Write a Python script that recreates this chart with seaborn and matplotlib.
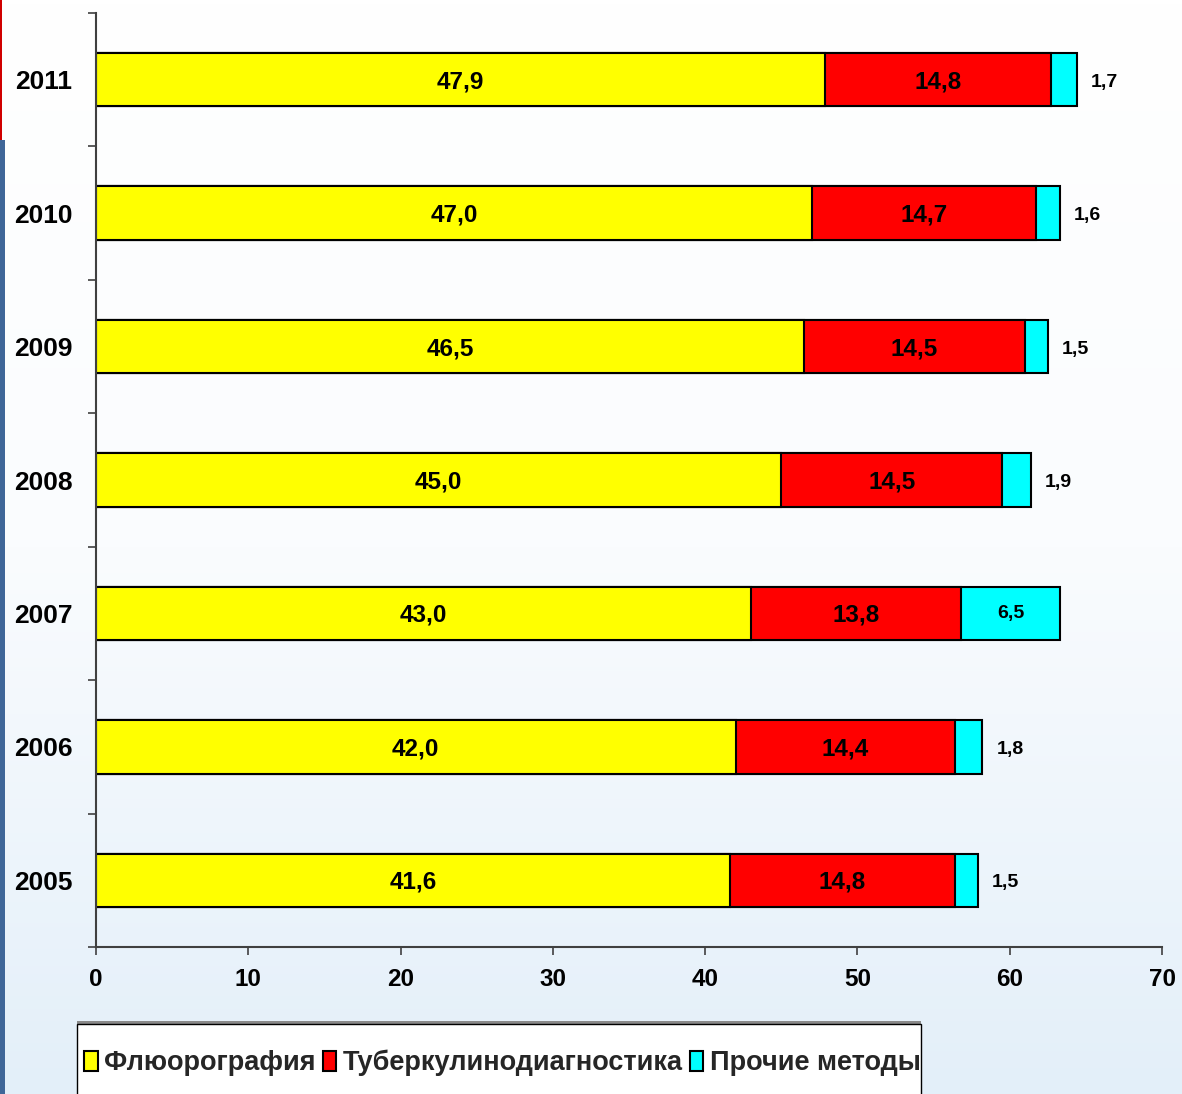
import numpy as np
import pandas as pd
import matplotlib
matplotlib.use("Agg")
import matplotlib.pyplot as plt
import seaborn as sns
from matplotlib.patches import Patch, Rectangle
from matplotlib.colors import LinearSegmentedColormap

# Screening methods by year, percent
years = ["2011", "2010", "2009", "2008", "2007", "2006", "2005"]
fluoro = [47.9, 47.0, 46.5, 45.0, 43.0, 42.0, 41.6]
tuberc = [14.8, 14.7, 14.5, 14.5, 13.8, 14.4, 14.8]
other = [1.7, 1.6, 1.5, 1.9, 6.5, 1.8, 1.5]
series_names = ["Флюорография", "Туберкулинодиагностика", "Прочие методы"]
x_ticks = [0, 10, 20, 30, 40, 50, 60, 70]

colors = ["#FFFF00", "#FF0000", "#00FFFF"]

sns.set_theme(style="ticks")
plt.rcParams["font.family"] = ["Liberation Sans", "DejaVu Sans"]
plt.rcParams["font.weight"] = "bold"

W, H = 1182, 1094
fig = plt.figure(figsize=(W / 100, H / 100), dpi=100)

# soft vertical gradient backdrop
bg = fig.add_axes([0, 0, 1, 1])
grad = np.linspace(0, 1, 256)[:, None]
cmap = LinearSegmentedColormap.from_list("bg", ["#FFFFFF", "#FAFCFE", "#E3EFF9"])
bg.imshow(grad, aspect="auto", cmap=cmap, extent=[0, 1, 0, 1], origin="upper")
bg.set_axis_off()

ax = fig.add_axes([96 / W, 1 - 947 / H, (1162 - 96) / W, (947 - 13) / H])
ax.set_facecolor("none")

df = pd.DataFrame({"year": years, "fluoro": fluoro, "tuberc": tuberc, "other": other})
df["s2"] = df["fluoro"] + df["tuberc"]
df["s3"] = df["s2"] + df["other"]

# stacked bars drawn as cumulative layers, widest first
for col, color in [("s3", colors[2]), ("s2", colors[1]), ("fluoro", colors[0])]:
    sns.barplot(data=df, x=col, y="year", order=years, color=color, saturation=1,
                width=0.4, edgecolor="black", linewidth=1.5, errorbar=None,
                orient="h", ax=ax)

def fmt(v):
    return f"{v:.1f}".replace(".", ",")

for i, r in df.iterrows():
    ax.text(r["fluoro"] / 2, i + 0.015, fmt(r["fluoro"]), ha="center", va="center",
            fontsize=17.5, fontweight="bold", color="black")
    ax.text(r["fluoro"] + r["tuberc"] / 2, i + 0.015, fmt(r["tuberc"]), ha="center",
            va="center", fontsize=17.5, fontweight="bold", color="black")
    if r["other"] >= 3:
        ax.text(r["s2"] + r["other"] / 2, i, fmt(r["other"]), ha="center", va="center",
                fontsize=14, fontweight="bold", color="black")
    else:
        ax.annotate(fmt(r["other"]), (r["s3"], i + 0.02), xytext=(20, 0),
                    textcoords="offset points", ha="center", va="center",
                    fontsize=14, fontweight="bold", color="black")

ax.set_xlim(0, 70)
ax.set_ylim(6.5, -0.5)
ax.set_xlabel("")
ax.set_ylabel("")
ax.set_xticks(x_ticks)
ax.set_xticklabels([str(t) for t in x_ticks])
ax.set_yticks(np.arange(-0.5, 7, 1), minor=True)

for s in ["top", "right"]:
    ax.spines[s].set_visible(False)
for s in ["left", "bottom"]:
    ax.spines[s].set_color("#404040")
    ax.spines[s].set_linewidth(1.5)

ax.tick_params(axis="x", which="major", length=6, width=1.2, color="#404040",
               direction="out", pad=9, labelsize=17.5, labelcolor="black")
ax.tick_params(axis="y", which="major", length=0, pad=17, labelsize=19, labelcolor="black")
ax.tick_params(axis="y", which="minor", length=6, width=1.2, color="#404040", direction="out")
for lbl in ax.get_xticklabels() + ax.get_yticklabels():
    lbl.set_fontweight("bold")

# slide edge accents
fig.add_artist(Rectangle((0, 1 - 140 / H), 2 / W, 140 / H, transform=fig.transFigure,
                         facecolor="#D00000", edgecolor="none"))
fig.add_artist(Rectangle((0, 0), 5 / W, 1 - 140 / H, transform=fig.transFigure,
                         facecolor="#3F6698", edgecolor="none"))

# legend panel
fig.add_artist(Rectangle((77 / W, -0.01), (921 - 77) / W, 1 - 1021 / H + 0.01,
                         transform=fig.transFigure, facecolor="#8A8A8A", edgecolor="none"))
fig.add_artist(Rectangle((77 / W, -0.01), (921 - 77) / W, 1 - 1024 / H + 0.01,
                         transform=fig.transFigure, facecolor="white",
                         edgecolor="black", linewidth=1))
handles = [Patch(facecolor=c, edgecolor="black", linewidth=1.5) for c in colors]
leg = fig.legend(handles, series_names, loc="center left",
                 bbox_to_anchor=(84 / W, 1 - 1063 / H), ncol=3, frameon=False,
                 fontsize=19.5, handlelength=0.5, handleheight=0.75, handletextpad=0.25,
                 columnspacing=0.25, borderpad=0, borderaxespad=0)
for t in leg.get_texts():
    t.set_fontweight("bold")

fig.savefig("out.png", dpi=100)
